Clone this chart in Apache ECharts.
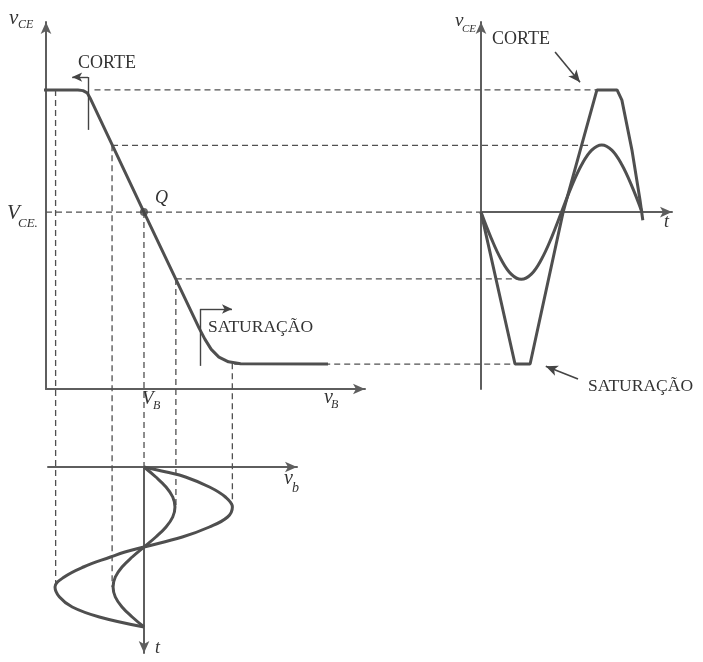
<!DOCTYPE html>
<html><head><meta charset="utf-8">
<script src="https://cdn.jsdelivr.net/npm/echarts@6/dist/echarts.min.js"></script>
<style>html,body{margin:0;padding:0;background:#fff}#c{width:703px;height:662px}</style>
</head><body><div id="c"></div>
<script>
// ---------- DATA ----------
// Transfer characteristic v_CE = f(v_B)
const transferVB  = [-0.28, 1.00, 1.16, 1.29, 1.38, 3.07, 4.80, 4.98, 5.18, 5.42, 5.72, 6.10, 8.84];
const transferVCE = [ 8.15, 8.15, 8.13, 8.07, 7.93, 4.82, 1.66, 1.36, 1.08, 0.87, 0.74, 0.69, 0.68];
// Quiescent point Q
const VB_Q = 3.07;
const VCE_Q = 4.82;
// Output v_CE(t) (relative to V_CE at Q)
const outTime  = [0, 0.25, 0.5, 0.75, 1, 1.25, 1.5, 1.75, 2, 2.25, 2.5, 2.75, 3, 3.25, 3.5, 3.75, 4];
const outSmall = [0, -0.70, -1.29, -1.69, -1.83, -1.69, -1.29, -0.70, 0, 0.70, 1.29, 1.69, 1.83, 1.69, 1.29, 0.70, 0];
const outBigTime = [0, 0.845, 1.22, 2.04, 2.88, 3.38, 3.50, 3.75, 3.95, 4.02];
const outBig     = [0, -4.14, -4.14, 0, 3.33, 3.33, 3.05, 1.69, 0.33, -0.22];
// Input v_b(t) (relative to V_B at Q)
const inTime  = [0, 0.25, 0.5, 0.75, 1, 1.25, 1.5, 1.75, 2, 2.25, 2.5, 2.75, 3, 3.25, 3.5, 3.75, 4];
const inSmall = [0, 0.37, 0.69, 0.90, 0.97, 0.90, 0.69, 0.37, 0, -0.37, -0.69, -0.90, -0.97, -0.90, -0.69, -0.37, 0];
const inBigTime = [0, 0.125, 0.25, 0.5, 0.75, 1, 1.25, 1.5, 1.75, 2, 2.125, 2.25, 2.5, 2.75, 3, 3.25, 3.5, 3.75, 4];
const inBig     = [0, 0.70, 1.30, 2.05, 2.55, 2.77, 2.62, 2.05, 1.20, 0, -0.60, -1.05, -1.90, -2.50, -2.79, -2.65, -2.25, -1.40, 0];
// Projection lines: horizontal (transfer -> output)
const hLevel  = [8.15, 6.64, 4.82, 3.00, 0.68];
const hFromVB = [1.52, 2.07, 0.00, 4.07, 5.90];
const hToTime = [2.88, 2.75, 0.00, 0.90, 0.845];
// Projection lines: vertical (transfer -> input)
const vVB       = [0.30, 2.07, 3.07, 4.07, 5.84];
const vFromVCE  = [8.15, 6.64, 4.82, 3.00, 0.70];
const vToTime   = [3, 3, 0, 1, 1];
// Annotation markers
const cutMark = {vB: 1.32, top: 8.50, bottom: 7.06, arrowTo: 0.82};
const satMark = {vB: 4.83, top: 2.18, bottom: 0.63, arrowTo: 5.83};
const cutArrowOut = [[1.84, 4.36], [2.46, 3.54]];
const satArrowOut = [[2.41, -4.55], [1.61, -4.20]];

// ---------- CHART ----------
const INK = '#4f4f4f', AX = '#5e5e5e', TXT = '#333';
const FONT = '"Liberation Serif", "DejaVu Serif", serif';
const chart = echarts.init(document.getElementById('c'), null, {renderer: 'canvas'});

function axis(extra, sym) {
  return Object.assign({
    type: 'value', splitLine: {show: false}, axisTick: {show: false}, axisLabel: {show: false},
    axisLine: {show: true, onZero: true, symbol: sym || ['none', 'arrow'], symbolSize: [8, 12],
      lineStyle: {color: AX, width: 2}}
  }, extra);
}
const zip = (a, b) => a.map((v, i) => [v, b[i]]);
const curve = (xi, yi, data, smooth) => ({
  type: 'line', xAxisIndex: xi, yAxisIndex: yi, data, showSymbol: false, smooth: smooth || false,
  clip: false, silent: true, animation: false, lineStyle: {color: INK, width: 3}, z: 3
});
const mlBase = {silent: true, animation: false, label: {show: false}, symbolSize: [7, 10],
  lineStyle: {color: '#444', width: 1.4, type: 'solid'}, emphasis: {disabled: true}};

const transfer = curve(0, 0, zip(transferVB, transferVCE));
transfer.markLine = Object.assign({}, mlBase, {
  symbol: ['none', 'arrow'],
  data: [
    [{coord: [cutMark.vB, cutMark.top], symbol: 'none'}, {coord: [cutMark.vB, cutMark.bottom], symbol: 'none'}],
    [{coord: [cutMark.vB, cutMark.top], symbol: 'none'}, {coord: [cutMark.arrowTo, cutMark.top]}],
    [{coord: [satMark.vB, satMark.top], symbol: 'none'}, {coord: [satMark.vB, satMark.bottom], symbol: 'none'}],
    [{coord: [satMark.vB, satMark.top], symbol: 'none'}, {coord: [satMark.arrowTo, satMark.top]}]
  ]
});
const bigOut = curve(1, 1, zip(outBigTime, outBig));
bigOut.markLine = Object.assign({}, mlBase, {
  symbol: ['none', 'arrow'], symbolSize: [8, 12], lineStyle: {color: '#444', width: 1.6, type: 'solid'},
  data: [
    [{coord: cutArrowOut[0], symbol: 'none'}, {coord: cutArrowOut[1]}],
    [{coord: satArrowOut[0], symbol: 'none'}, {coord: satArrowOut[1]}]
  ]
});

const option = {
  backgroundColor: '#fff',
  animation: false,
  grid: [
    {left: 46, top: 22, width: 319, height: 367},
    {left: 481, top: 22, width: 191, height: 367},
    {left: 48, top: 467, width: 249, height: 186}
  ],
  xAxis: [
    axis({gridIndex: 0, min: 0, max: 10}),
    axis({gridIndex: 1, min: 0, max: 4.745}),
    axis({gridIndex: 2, min: -3.01, max: 4.795})
  ],
  yAxis: [
    axis({gridIndex: 0, min: 0, max: 10}),
    axis({gridIndex: 1, min: -4.82, max: 5.18}),
    axis({gridIndex: 2, min: 0, max: 4.65, inverse: true}, ['arrow', 'none'])
  ],
  series: [
    transfer,
    {type: 'scatter', xAxisIndex: 0, yAxisIndex: 0, data: [[VB_Q, VCE_Q]], symbolSize: 8,
      itemStyle: {color: '#444'}, silent: true, z: 4},
    bigOut,
    curve(1, 1, zip(outTime, outSmall), 0.4),
    curve(2, 2, zip(inBig, inBigTime), 0.4),
    curve(2, 2, zip(inSmall, inTime), 0.4)
  ]
};
chart.setOption(option);

// ---------- projection lines through the library's scales ----------
const P = (g, pt) => chart.convertToPixel({gridIndex: g}, pt);
const graphics = [];
function dash(a, b) {
  graphics.push({type: 'line', silent: true, z: 1,
    shape: {x1: a[0], y1: a[1], x2: b[0], y2: b[1]},
    style: {stroke: '#505050', lineWidth: 1.3, lineDash: [6, 4]}});
}
hLevel.forEach((lv, i) => dash(P(0, [hFromVB[i], lv]), P(1, [hToTime[i], lv - VCE_Q])));
vVB.forEach((vb, i) => dash(P(0, [vb, vFromVCE[i]]), P(2, [vb - VB_Q, vToTime[i]])));

// ---------- text labels ----------
function t(x, y, s, size, italic) {
  graphics.push({type: 'text', x, y, silent: true, z: 5,
    style: {text: s, fontSize: size, fontFamily: FONT, fontStyle: italic ? 'italic' : 'normal',
      fill: TXT, verticalAlign: 'middle', align: 'left'}});
}
t(9, 18, 'v', 21, true);   t(18, 25, 'CE', 12, true);
t(78, 63, 'CORTE', 18, false);
t(7, 213, 'V', 21, true);  t(18, 224, 'CE.', 13, true);
t(155, 198, 'Q', 18, true);
t(208, 327, 'SATURAÇÃO', 17.5, false);
t(142, 399, 'V', 19, true); t(153, 406, 'B', 12, true);
t(324, 398, 'v', 20, true); t(331, 405, 'B', 12, true);
t(455, 21, 'v', 19, true);  t(462, 29, 'CE', 11, true);
t(492, 39, 'CORTE', 18, false);
t(664, 222, 't', 18, true);
t(588, 386, 'SATURAÇÃO', 17.5, false);
t(284, 479, 'v', 20, true); t(292, 488, 'b', 14, true);
t(155, 648, 't', 18, true);

chart.setOption({graphic: graphics});
</script>
</body></html>
